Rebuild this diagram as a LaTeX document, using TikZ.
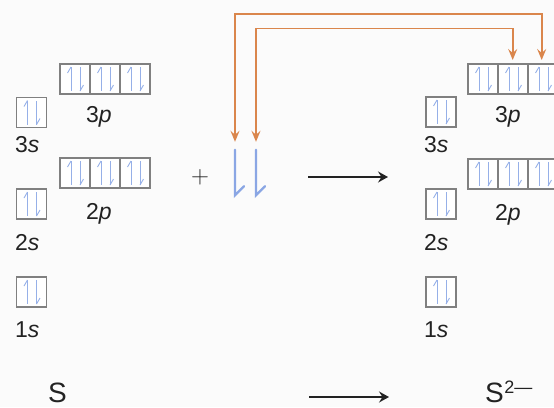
\documentclass[tikz,border=0pt]{standalone}
\usepackage{fontspec}
\setmainfont{Liberation Sans}
\usetikzlibrary{arrows.meta}
\definecolor{boxgray}{RGB}{128,128,128}
\definecolor{eblue}{RGB}{150,176,232}
\definecolor{eblued}{RGB}{138,166,228}
\definecolor{oran}{RGB}{218,134,76}
\definecolor{bgc}{RGB}{251,251,251}
\definecolor{ink}{RGB}{34,34,34}
\tikzset{
  ethin/.style={eblue, line width=0.9pt},
  obox/.style={draw=boxgray, line width=1.2pt, fill=white, minimum width=30pt, minimum height=30pt, inner sep=0pt, outer sep=0pt},
  lbl/.style={anchor=base west, inner sep=0pt, text=ink, font=\fontsize{23}{23}\selectfont},
  species/.style={anchor=base west, inner sep=0pt, text=ink, font=\fontsize{28}{28}\selectfont},
  orarrow/.style={oran, line width=1.6pt, {Stealth[length=11pt,width=9pt,inset=4pt]}-{Stealth[length=11pt,width=9pt,inset=4pt]}},
  rxarrow/.style={ink, line width=1.5pt, -{Stealth[length=10pt,width=11pt,inset=3.5pt]}},
  ebig/.style={eblued, line width=2.4pt},
}
\begin{document}
\begin{tikzpicture}[x=1pt,y=-1pt]
\useasboundingbox (0,0) rectangle (554,407);
\clip (0,0) rectangle (554,407);
\fill[bgc] (0,0) rectangle (554,407);

% left atom S
\node[obox] (l3s) at (31.5,112.5) {};
\node[obox] (l2s) at (31.5,204) {};
\node[obox] (l1s) at (31.5,292) {};
\node[obox] (l3p1) at (75,79) {};
\node[obox] (l3p2) at (105,79) {};
\node[obox] (l3p3) at (135,79) {};
\node[obox] (l2p1) at (75,173) {};
\node[obox] (l2p2) at (105,173) {};
\node[obox] (l2p3) at (135,173) {};
\node[lbl] (t3s) at (15,152) {3\textit{s}};
\node[lbl] (t2s) at (15,250) {2\textit{s}};
\node[lbl] (t1s) at (15,337) {1\textit{s}};
\node[lbl] (t3p) at (86,122) {3\textit{p}};
\node[lbl] (t2p) at (86,219) {2\textit{p}};

% right ion S2-
\node[obox] (r3s) at (441,112) {};
\node[obox] (r2s) at (441,204) {};
\node[obox] (r1s) at (441,292) {};
\node[obox] (r3p1) at (483,79) {};
\node[obox] (r3p2) at (513,79) {};
\node[obox] (r3p3) at (543,79) {};
\node[obox] (r2p1) at (483,174) {};
\node[obox] (r2p2) at (513,174) {};
\node[obox] (r2p3) at (543,174) {};
\node[lbl] (u3s) at (424,152) {3\textit{s}};
\node[lbl] (u2s) at (424,250) {2\textit{s}};
\node[lbl] (u1s) at (424,337) {1\textit{s}};
\node[lbl] (u3p) at (495,122) {3\textit{p}};
\node[lbl] (u2p) at (495,220) {2\textit{p}};

% electron pairs in the boxes
\foreach \n in {l3s,l2s,l1s,l3p1,l3p2,l3p3,l2p1,l2p2,l2p3,r3s,r2s,r1s,r3p1,r3p2,r3p3,r2p1,r2p2,r2p3}{
  \begin{scope}[shift={(\n.center)}]
    \draw[ethin] (-4,-12) -- (-4,12);
    \draw[ethin] (-4,-12) -- (-7.5,-6);
    \draw[ethin] (5,12) -- (5,-12);
    \draw[ethin] (5,12) -- (8.5,6);
  \end{scope}
}

% plus and the two electrons
\node[inner sep=0pt, text=ink] (plus) at (200,177.5) {\fontsize{37}{37}\selectfont$+$};
\node[inner sep=0pt, minimum width=1pt, minimum height=45pt] (e1) at (235,172.5) {};
\node[inner sep=0pt, minimum width=1pt, minimum height=45pt] (e2) at (256,172.5) {};
\draw[ebig, line cap=round] (e1.north) -- (e1.south) -- ++(9,-9);
\draw[ebig, line cap=round] (e2.north) -- (e2.south) -- ++(9,-9);

% orange transfer arrows
\coordinate (otop) at (0,14);
\coordinate (itop) at (0,28.5);
\coordinate (o3) at ([xshift=-1.3pt,yshift=4pt]r3p3.north);
\coordinate (o2) at ([xshift=-0.3pt,yshift=4pt]r3p2.north);
\draw[orarrow] ([yshift=8pt]e1.north) -- (e1.north |- otop) -- (o3 |- otop) -- (o3);
\draw[orarrow] ([yshift=8pt]e2.north) -- (e2.north |- itop) -- (o2 |- itop) -- (o2);

% reaction arrows
\coordinate (ma1) at (308,177);
\coordinate (ma2) at (388,177);
\draw[rxarrow] (ma1) -- (ma2);
\coordinate (ba1) at (309,397);
\coordinate (ba2) at (389,397);
\draw[rxarrow] (ba1) -- (ba2);

% species labels
\node[species] (sl) at (48,402) {S};
\node[species] (sr) at (485,402) {S\kern0.5pt\raisebox{9pt}{\fontsize{18}{18}\selectfont 2—}};
\end{tikzpicture}
\end{document}
